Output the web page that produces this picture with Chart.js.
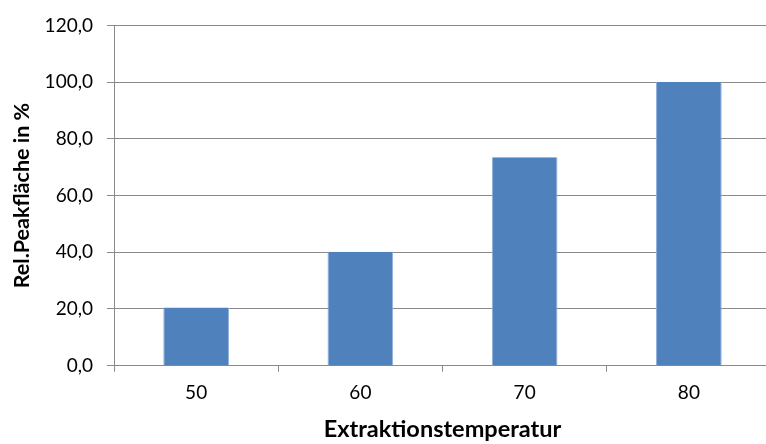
<!DOCTYPE html>
<html>
<head>
<meta charset="utf-8">
<script src="https://cdn.jsdelivr.net/npm/chart.js@4"></script>
<style>
  html, body { margin: 0; padding: 0; background: #fff; overflow: hidden; }
  #wrap { width: 771px; height: 444px; }
</style>
</head>
<body>
<div id="wrap"><canvas id="c" width="771" height="444"></canvas></div>
<script>
// Extraktionstemperatur (°C)
const temperatures = ['50', '60', '70', '80'];
// relative Peakfläche in %
const relPeakArea = [20.5, 40.2, 73.5, 100.0];
// y-axis tick labels (German decimal comma)
const yTickLabels = ['0,0', '20,0', '40,0', '60,0', '80,0', '100,0', '120,0'];

const axisGray = '#8a8a8a';
const fontFamily = 'Lato, "Open Sans", sans-serif';
const tickFont = { family: fontFamily, size: 19 };

new Chart(document.getElementById('c'), {
  type: 'bar',
  data: {
    labels: temperatures,
    datasets: [{
      data: relPeakArea,
      backgroundColor: '#4f81bd',
      borderColor: '#8fb0da',
      borderWidth: { left: 1, right: 1, top: 0, bottom: 0 },
      barPercentage: 0.4,
      categoryPercentage: 1.0
    }]
  },
  options: {
    responsive: false,
    animation: false,
    devicePixelRatio: 1,
    layout: { padding: { top: 23.5, right: 0, bottom: 0, left: 0 } },
    plugins: { legend: { display: false }, tooltip: { enabled: false } },
    scales: {
      x: {
        grid: { drawOnChartArea: false, drawTicks: true, tickLength: 6, color: axisGray, offset: true },
        border: { display: true, color: axisGray, width: 1 },
        ticks: { color: '#000', font: tickFont, padding: 10, maxRotation: 0 },
        title: {
          display: true, text: 'Extraktionstemperatur', color: '#000',
          font: { family: fontFamily, size: 23.5, weight: 'bold' },
          padding: { top: 0, bottom: 0 }
        },
        afterFit(scale) { scale.height = 444 - 365.7; }
      },
      y: {
        min: 0, max: 120,
        grid: { color: axisGray, lineWidth: 1, tickLength: 7 },
        border: { display: true, color: axisGray, width: 1 },
        ticks: {
          stepSize: 20, color: '#000', font: tickFont, padding: 14,
          callback: (v, i) => yTickLabels[i]
        },
        title: {
          display: true, text: 'Rel.Peakfläche in %', color: '#000',
          font: { family: fontFamily, size: 21.5, weight: 'bold' },
          padding: { top: 9, bottom: 0 }
        },
        afterFit(scale) { scale.width = 114; }
      }
    }
  }
});
</script>
</body>
</html>
